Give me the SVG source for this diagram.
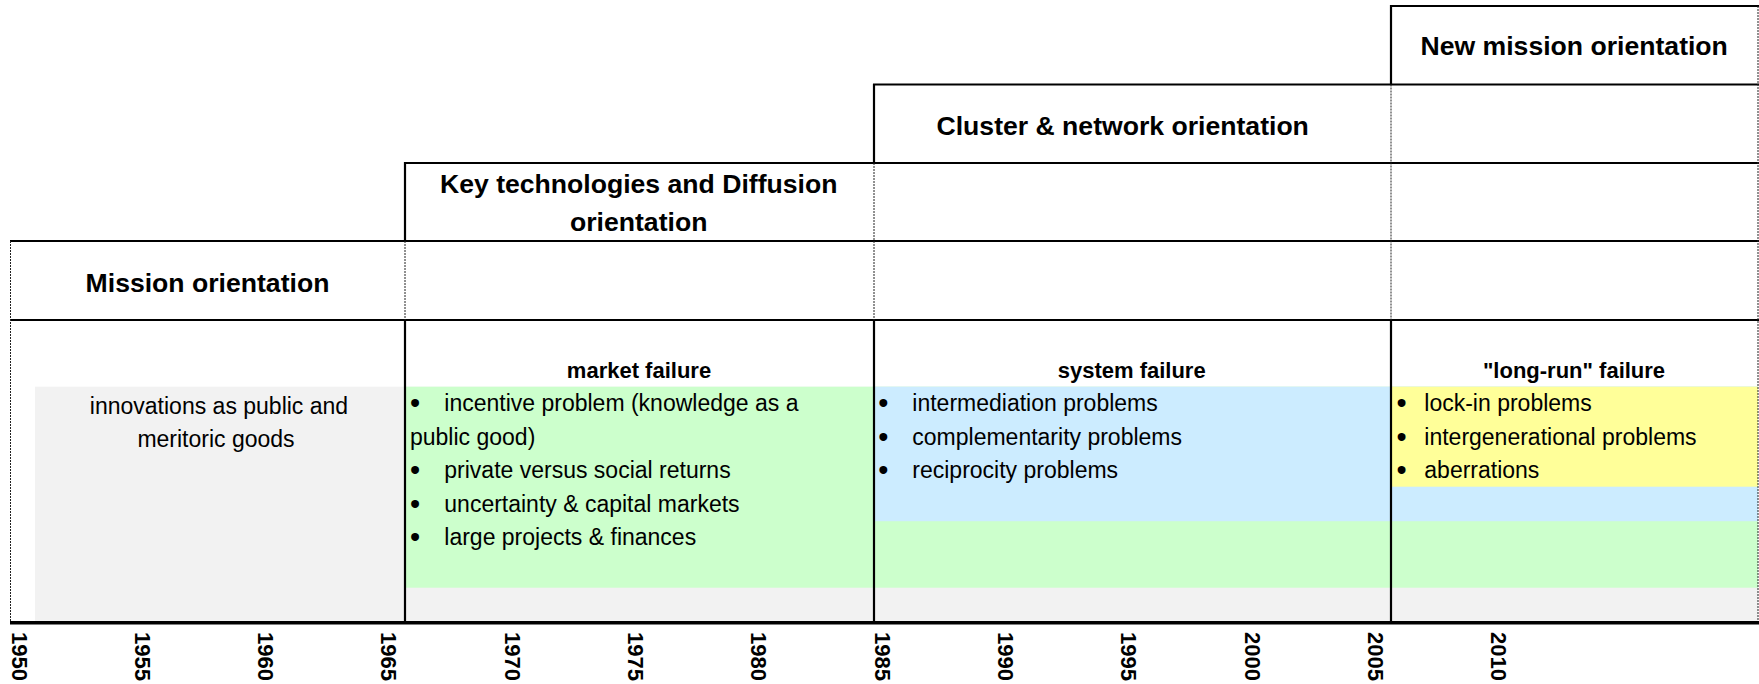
<svg xmlns="http://www.w3.org/2000/svg" width="1759" height="684" viewBox="0 0 1759 684">
<style>
  text { font-family: "Liberation Sans", Arial, sans-serif; fill: #000; }
  .h { font-size: 26.6px; font-weight: bold; text-anchor: middle; }
  .sh { font-size: 22px; font-weight: bold; text-anchor: middle; }
  .b { font-size: 23px; }
  .bc { font-size: 23px; text-anchor: middle; }
  .bu { font-size: 29px; text-anchor: middle; }
  .yr { font-size: 22px; font-weight: bold; }
  .solid { stroke: #000; stroke-width: 2.2; fill: none; }
  .dot { stroke: #222; stroke-width: 1; stroke-dasharray: 2 1; fill: none; }
  .axis { stroke: #000; stroke-width: 3.6; fill: none; }
</style>
<rect width="1759" height="684" fill="#fff"/>

<g id="backgrounds">
  <rect x="35" y="386.7" width="1723" height="235" fill="#F2F2F2"/>
  <rect x="405" y="386.7" width="1353" height="201" fill="#CCFFCC"/>
  <rect x="874" y="386.7" width="884" height="134.5" fill="#CCECFF"/>
  <rect x="1391" y="386.7" width="367" height="100" fill="#FFFF99"/>
</g>

<g id="connectors">
  <line class="solid" x1="1390" y1="6" x2="1759" y2="6"/>
  <line class="solid" x1="873" y1="84.5" x2="1759" y2="84.5"/>
  <line class="solid" x1="404" y1="163" x2="1759" y2="163"/>
  <line class="solid" x1="10" y1="241" x2="1759" y2="241"/>
  <line class="solid" x1="10" y1="320" x2="1759" y2="320"/>
  <line class="solid" x1="1391" y1="5" x2="1391" y2="84.5"/>
  <line class="solid" x1="874" y1="84" x2="874" y2="163"/>
  <line class="solid" x1="405" y1="162" x2="405" y2="241"/>
  <line class="solid" x1="405" y1="320" x2="405" y2="621"/>
  <line class="solid" x1="874" y1="320" x2="874" y2="621"/>
  <line class="solid" x1="1391" y1="320" x2="1391" y2="621"/>
  <line class="dot" x1="10.5" y1="241" x2="10.5" y2="621"/>
  <line class="dot" x1="405" y1="241" x2="405" y2="320"/>
  <line class="dot" x1="874" y1="163" x2="874" y2="320"/>
  <line class="dot" x1="1391" y1="84.5" x2="1391" y2="320"/>
  <line class="dot" x1="1758" y1="6" x2="1758" y2="621"/>
  <line class="axis" x1="10" y1="622.8" x2="1759" y2="622.8"/>
</g>

<g id="mission">
  <text class="h" x="207.5" y="291.7">Mission orientation</text>
  <text class="bc" x="219" y="414.3">innovations as public and</text>
  <text class="bc" x="216" y="446.5">meritoric goods</text>
</g>

<g id="keytech">
  <text class="h" x="638.7" y="193.3">Key technologies and Diffusion</text>
  <text class="h" x="638.7" y="231">orientation</text>
  <text class="sh" x="639" y="378.3">market failure</text>
  <text class="bu" x="415" y="413">•</text>
  <text class="b" x="444.3" y="411">incentive problem (knowledge as a</text>
  <text class="b" x="410" y="444.5">public good)</text>
  <text class="bu" x="415" y="480">•</text>
  <text class="b" x="444.3" y="478">private versus social returns</text>
  <text class="bu" x="415" y="513.5">•</text>
  <text class="b" x="444.3" y="511.5">uncertainty &amp; capital markets</text>
  <text class="bu" x="415" y="547">•</text>
  <text class="b" x="444.3" y="545">large projects &amp; finances</text>
</g>

<g id="cluster">
  <text class="h" x="1122.7" y="135">Cluster &amp; network orientation</text>
  <text class="sh" x="1131.7" y="378.3">system failure</text>
  <text class="bu" x="883.3" y="413">•</text>
  <text class="b" x="912.3" y="411">intermediation problems</text>
  <text class="bu" x="883.3" y="446.5">•</text>
  <text class="b" x="912.3" y="444.5">complementarity problems</text>
  <text class="bu" x="883.3" y="480">•</text>
  <text class="b" x="912.3" y="478">reciprocity problems</text>
</g>

<g id="newmission">
  <text class="h" x="1574.2" y="55">New mission orientation</text>
  <text class="sh" x="1574" y="378.3">"long-run" failure</text>
  <text class="bu" x="1401.7" y="413">•</text>
  <text class="b" x="1424.3" y="411">lock-in problems</text>
  <text class="bu" x="1401.7" y="446.5">•</text>
  <text class="b" x="1424.3" y="444.5">intergenerational problems</text>
  <text class="bu" x="1401.7" y="480">•</text>
  <text class="b" x="1424.3" y="478">aberrations</text>
</g>

<g id="years">
  <text class="yr" transform="translate(11.5,632) rotate(90)">1950</text>
  <text class="yr" transform="translate(134.8,632) rotate(90)">1955</text>
  <text class="yr" transform="translate(258.1,632) rotate(90)">1960</text>
  <text class="yr" transform="translate(381.4,632) rotate(90)">1965</text>
  <text class="yr" transform="translate(504.7,632) rotate(90)">1970</text>
  <text class="yr" transform="translate(628,632) rotate(90)">1975</text>
  <text class="yr" transform="translate(751.3,632) rotate(90)">1980</text>
  <text class="yr" transform="translate(874.6,632) rotate(90)">1985</text>
  <text class="yr" transform="translate(997.9,632) rotate(90)">1990</text>
  <text class="yr" transform="translate(1121.2,632) rotate(90)">1995</text>
  <text class="yr" transform="translate(1244.5,632) rotate(90)">2000</text>
  <text class="yr" transform="translate(1367.8,632) rotate(90)">2005</text>
  <text class="yr" transform="translate(1491.1,632) rotate(90)">2010</text>
</g>
</svg>
